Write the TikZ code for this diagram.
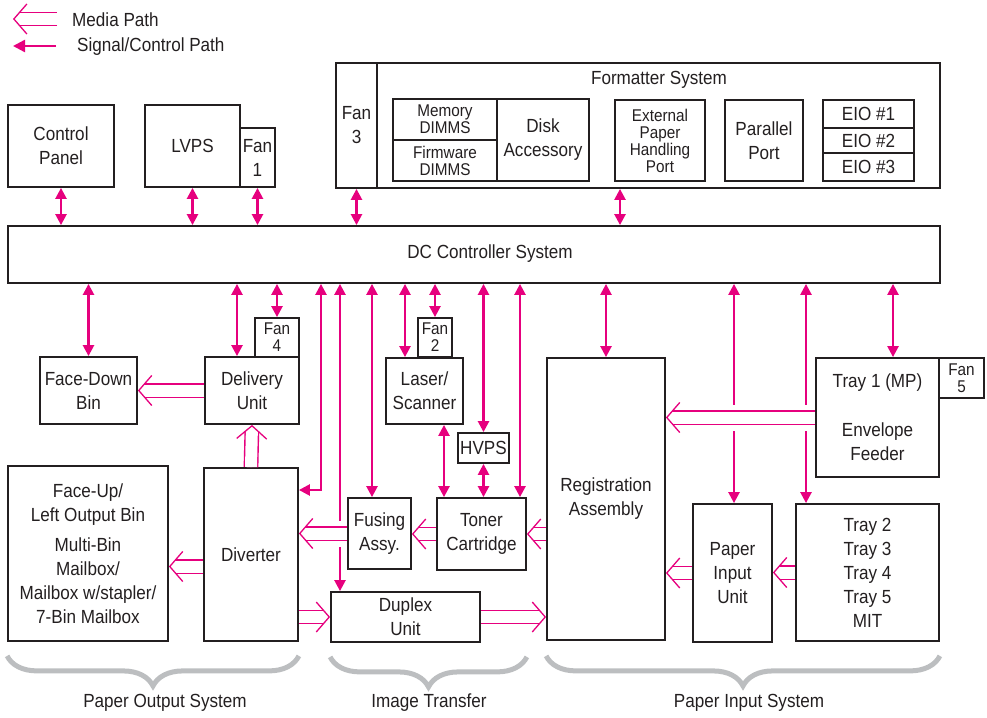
\documentclass[tikz,border=0pt]{standalone}
\usepackage{fontspec}
\setmainfont[FakeStretch=0.9]{Liberation Sans}
\usetikzlibrary{arrows.meta,decorations.pathreplacing}
\definecolor{pk}{RGB}{230,0,126}
\definecolor{ink}{RGB}{35,31,32}
\definecolor{bgray}{RGB}{188,190,192}

\begin{document}
\begin{tikzpicture}[x=1pt,y=-1pt,
  every node/.style={font=\fontsize{19}{24}\selectfont,text=ink,align=center,inner sep=0pt},
  box/.style={draw=ink,line width=1.8pt,rectangle},
  tight/.style={font=\fontsize{17}{17}\selectfont},
  sig/.style={draw=pk,line width=2.4pt,{Triangle[length=11pt,width=11pt]}-{Triangle[length=11pt,width=11pt]}},
  sigone/.style={draw=pk,line width=2.4pt,-{Triangle[length=12pt,width=12pt]}},
  media/.style={draw=white,line width=0.8pt,
    -{Straight Barb[length=13pt,width=30pt,line width=1.3pt,color=pk]},
    preaction={draw=white,arrows=-,line width=26pt,shorten <=2pt,shorten >=2pt},
    preaction={draw=pk,arrows=-,line width=14.8pt,shorten >=6.4pt},
    preaction={draw=white,arrows=-,line width=12pt,shorten >=6pt}},
  grp/.style={draw=bgray,line width=5pt,decorate,decoration={brace,mirror,amplitude=30pt}}]
\useasboundingbox (0,0) rectangle (987,717);

% legend
\coordinate (lm1) at (57,19);
\coordinate (lm2) at (13,19);
\coordinate (ls1) at (56,46);
\coordinate (ls2) at (13,46);
\node [anchor=west] (lmt) at (72,20){Media Path};
\node [anchor=west] (lst) at (77,47){Signal/Control Path};

% top row
\node [box,minimum width=106pt,minimum height=82pt] (cp) at(61,146){Control\\Panel};
\node [box,minimum width=95pt,minimum height=82pt] (lv) at(192.5,146){LVPS};
\node [box,minimum width=35pt,minimum height=59pt] (f1) at(257.5,157.5){Fan\\1};
\node [box,minimum width=41pt,minimum height=125pt] (f3) at(356.5,125.5){Fan\\3};
\node [box,minimum width=563pt,minimum height=125pt] (fm) at(658.5,125.5){};
\node (fmt) at(659,80){Formatter System};
\node [box,tight,minimum width=104pt,minimum height=41pt] (mem) at(445,119.5){Memory\\DIMMS};
\node [box,tight,minimum width=104pt,minimum height=41pt] (fw) at(445,160.5){Firmware\\DIMMS};
\node [box,minimum width=92pt,minimum height=82pt] (dsk) at(543,140){Disk\\Accessory};
\node [box,tight,minimum width=90pt,minimum height=81pt] (ep) at(660,140.5){External\\Paper\\Handling\\Port};
\node [box,minimum width=78pt,minimum height=81pt] (pp) at(764,140.5){Parallel\\Port};
\node [box,minimum width=91pt,minimum height=28pt] (e1) at(868.5,114){EIO \#1};
\node [box,minimum width=91pt,minimum height=25pt] (e2) at(868.5,140.5){EIO \#2};
\node [box,minimum width=91pt,minimum height=28pt] (e3) at(868.5,167){EIO \#3};

% controller
\node [box,minimum width=932pt,minimum height=57pt] (dc) at(474,254.5){};
\node (dct) at(490,254){DC Controller System};

% lower units
\node [box,tight,minimum width=44pt,minimum height=39pt] (f4) at(277,337.5){Fan\\4};
\node [box,minimum width=97pt,minimum height=67pt] (fd) at(88.5,390.5){Face-Down\\Bin};
\node [box,minimum width=94pt,minimum height=67pt] (du) at(252,390.5){Delivery\\Unit};
\node [box,tight,minimum width=34pt,minimum height=39pt] (f2) at(435,337.5){Fan\\2};
\node [box,minimum width=77pt,minimum height=66pt] (ls) at(424.5,391){Laser/\\Scanner};
\node [box,minimum width=51pt,minimum height=30pt] (hv) at(483.5,448){HVPS};
\node [box,minimum width=89pt,minimum height=72pt] (tc) at(481.5,534){Toner\\Cartridge};
\node [box,minimum width=63pt,minimum height=71pt] (fa) at(379.5,533.5){Fusing\\Assy.};
\node [box,minimum width=149pt,minimum height=50pt] (dx) at(405.5,617){Duplex\\Unit};
\node [box,minimum width=94pt,minimum height=173pt] (dv) at(251,554.5){Diverter};
\node [box,minimum width=160pt,minimum height=175pt] (fu) at(88,553.5){Face-Up/\\Left Output Bin\\[6pt]Multi-Bin\\Mailbox/\\Mailbox w/stapler/\\7-Bin Mailbox};
\node [box,minimum width=118pt,minimum height=282pt] (ra) at(606,499){Registration\\Assembly};
\node [box,minimum width=123pt,minimum height=119pt] (t1) at(877.5,417.5){Tray 1 (MP)\\[25pt]Envelope\\Feeder};
\node [box,tight,minimum width=45pt,minimum height=40pt] (f5) at(961.5,378){Fan\\5};
\node [box,minimum width=79pt,minimum height=138pt] (pi) at(732.5,573){Paper\\Input\\Unit};
\node [box,minimum width=143pt,minimum height=137pt] (tr) at(867.5,572.5){Tray 2\\Tray 3\\Tray 4\\Tray 5\\MIT};

% signal / control paths
\draw[sigone] (ls1) -- (ls2);
\draw[sig] (cp.south) -- (cp.south |- dc.north);
\draw[sig] (lv.south) -- (lv.south |- dc.north);
\draw[sig] (f1.south) -- (f1.south |- dc.north);
\draw[sig] (f3.south) -- (f3.south |- dc.north);
\draw[sig] (fm.south -| 620,0) -- (dc.north -| 620,0);
\draw[sig] (dc.south -| fd.north) -- (fd.north);
\draw[sig] (dc.south -| 237,0) -- (du.north -| 237,0);
\draw[sig] (dc.south -| f4.north) -- (f4.north);
\draw[sig] (dc.south -| 321,0) |- (dv.east |- 0,490);
\draw[sig] (dc.south -| 340,0) -- (dx.north -| 340,0);
\draw[sig] (dc.south -| 372,0) -- (fa.north -| 372,0);
\draw[sig] (dc.south -| 405,0) -- (ls.north -| 405,0);
\draw[sig] (dc.south -| f2.north) -- (f2.north);
\draw[sig] (ls.south -| 444,0) -- (tc.north -| 444,0);
\draw[sig] (dc.south -| hv.north) -- (hv.north);
\draw[sig] (hv.south) -- (tc.north -| hv.south);
\draw[sig] (dc.south -| 520,0) -- (tc.north -| 520,0);
\draw[sig] (dc.south -| ra.north) -- (ra.north);
\draw[sig] (dc.south -| 734,0) -- (pi.north -| 734,0);
\draw[sig] (dc.south -| 806,0) -- (tr.north -| 806,0);
\draw[sig] (dc.south -| 893,0) -- (t1.north -| 893,0);

% media paths
\coordinate (dvo) at ([yshift=-12pt]dv.west);
\draw[media] (lm1) -- (lm2);
\draw[media] (du.west) -- (fd.east);
\draw[media] (dv.north) -- (du.south);
\draw[media] (dvo) -- (fu.east |- dvo);
\draw[media] (fa.west) -- (dv.east |- fa.west);
\draw[media] (tc.west) -- (fa.east |- tc.west);
\draw[media] (ra.west |- tc.east) -- (tc.east);
\draw[media] (dv.east |- dx.west) -- (dx.west);
\draw[media] (dx.east) -- (ra.west |- dx.east);
\draw[media] (t1.west) -- (ra.east |- t1.west);
\draw[media] (pi.west) -- (ra.east |- pi.west);
\draw[media] (tr.west) -- (pi.east |- tr.west);

% groups
\draw[grp] ([yshift=-14pt]fu.south west) -- ([yshift=-14pt]dv.south east);
\draw[grp] ([yshift=-14pt]dx.south west) -- ([yshift=-14pt]dx.south west -| tc.east);
\draw[grp] ([yshift=-15pt]ra.south west) -- ([yshift=-14pt]tr.south east);
\node (pos) at(165,703){Paper Output System};
\node (imt) at(429,703){Image Transfer};
\node (pis) at(749,703){Paper Input System};
\end{tikzpicture}
\end{document}
